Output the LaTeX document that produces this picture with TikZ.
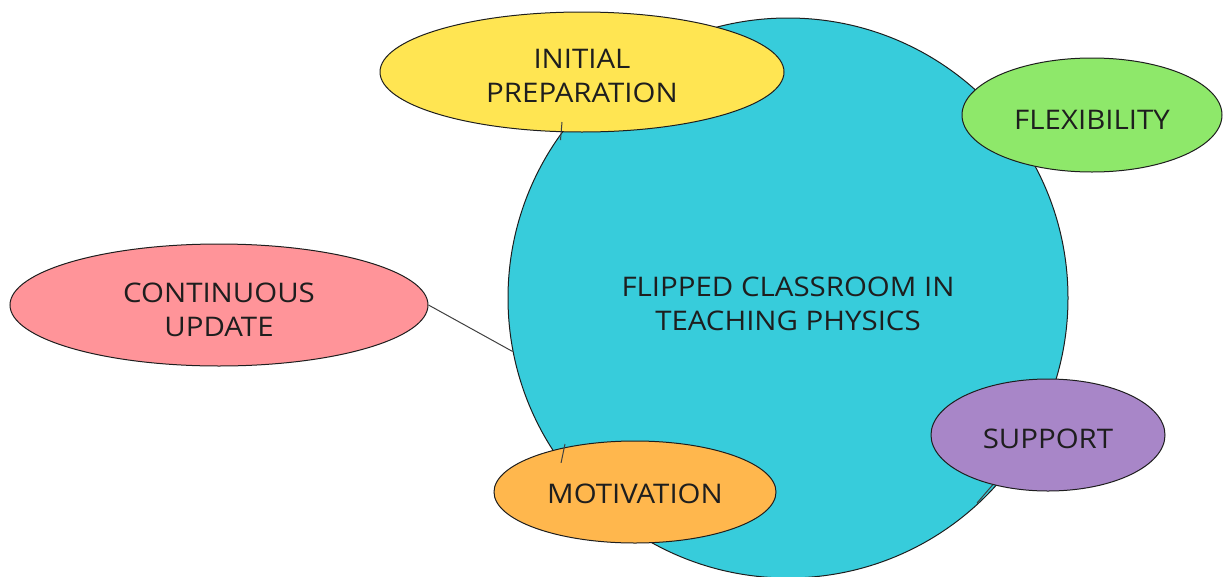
\documentclass[tikz,border=0pt]{standalone}
\usepackage{fontspec}
\setmainfont{Open Sans}[FakeStretch=1.09]
\usetikzlibrary{shapes.geometric}
\definecolor{hubcol}{HTML}{37CCDB}
\definecolor{prepcol}{HTML}{FFE552}
\definecolor{flexcol}{HTML}{8EE86A}
\definecolor{contcol}{HTML}{FF9499}
\definecolor{supcol}{HTML}{A886C8}
\definecolor{motcol}{HTML}{FFB74D}
\definecolor{inkcol}{HTML}{1E1E1E}
\tikzset{
  bubble/.style={ellipse, draw=inkcol, line width=1pt, inner sep=0pt,
    align=center, text=inkcol, font=\fontsize{27}{34}\selectfont},
  % lowers a one-line label inside its shape by #1 (a strut beside the text)
  lower/.style={execute at begin node={\rule{0pt}{\dimexpr19.3pt+2\dimexpr#1\relax\relax}}},
  % the same for two-line labels (text block is one baseline skip taller)
  lowertwo/.style={execute at begin node={\rule{0pt}{\dimexpr53.3pt+2\dimexpr#1\relax\relax}}},
  link/.style={draw=inkcol!85, line width=1pt}
}
\begin{document}
\begin{tikzpicture}[x=1pt, y=-1pt]
  \useasboundingbox (0,0) rectangle (1227,576);
  % central topic
  \node[bubble, circle, fill=hubcol, minimum size=560pt, lowertwo=5.5pt] (hub) at (788,298)
    {FLIPPED CLASSROOM IN\\TEACHING PHYSICS};
  % surrounding topics
  \node[bubble, fill=prepcol, minimum width=404pt, minimum height=120pt, lowertwo=3.5pt] (prep) at (582,72)
    {INITIAL\\PREPARATION};
  \node[bubble, fill=flexcol, minimum width=260pt, minimum height=114pt, lower=5pt] (flex) at (1092,115)
    {FLEXIBILITY};
  \node[bubble, fill=contcol, minimum width=418pt, minimum height=122pt, lowertwo=4.5pt] (cont) at (219,305)
    {CONTINUOUS\\UPDATE};
  \node[bubble, fill=supcol, minimum width=234pt, minimum height=112pt, lower=4pt] (sup) at (1048,435)
    {SUPPORT};
  \node[bubble, fill=motcol, minimum width=282pt, minimum height=102pt, lower=2pt] (mot) at (635,492)
    {MOTIVATION};
  % connector ends
  \coordinate (prepTail) at (562,122);
  \coordinate (motTail) at (565,444);
  \coordinate (supTail) at (977,503);
  % connectors
  \draw[link] (cont.east) -- (hub.191.8);
  \draw[link, shorten <=-7pt] (hub.144) -- (prepTail);
  \draw[link] (hub.216.6) -- (motTail);
  \draw[link] (sup.222) -- (supTail);
\end{tikzpicture}
\end{document}
